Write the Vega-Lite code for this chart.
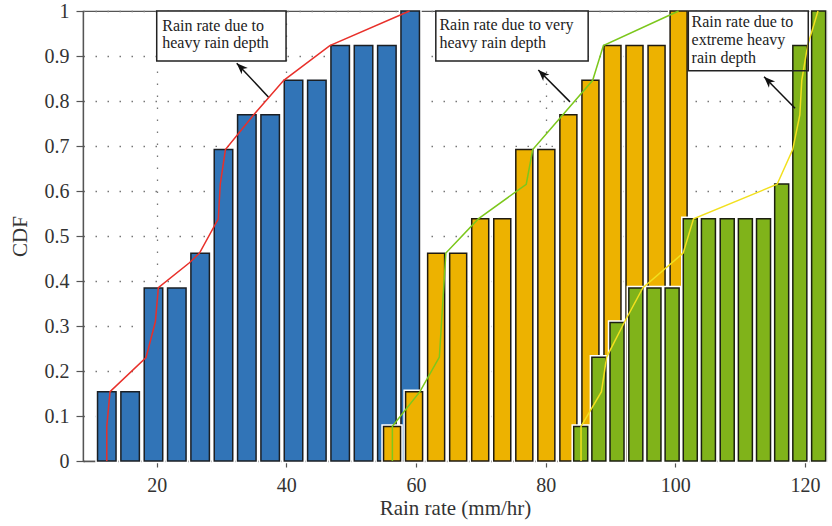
{
  "$schema": "https://vega.github.io/schema/vega-lite/v6.json",
  "width": 744,
  "height": 450,
  "autosize": {"type": "none"},
  "padding": {"left": 83, "top": 11, "right": 5, "bottom": 65},
  "background": "white",
  "config": {
    "view": {"stroke": "#555", "strokeWidth": 1.2},
    "axis": {
      "labelFont": "Liberation Serif",
      "labelFontSize": 20,
      "labelColor": "#333",
      "titleFont": "Liberation Serif",
      "titleFontSize": 21,
      "titleFontWeight": "normal",
      "titleColor": "#333",
      "domainColor": "#555",
      "domainWidth": 1.3,
      "tickColor": "#555",
      "tickWidth": 1.2,
      "gridColor": "#777",
      "gridDash": [1.5, 10.5],
      "gridWidth": 1.3
    }
  },
  "datasets": {
    "bars": [
      {"s": "heavy", "x": 12.3, "v": 0.1538},
      {"s": "heavy", "x": 15.9, "v": 0.1538},
      {"s": "heavy", "x": 19.5, "v": 0.3846},
      {"s": "heavy", "x": 23.1, "v": 0.3846},
      {"s": "heavy", "x": 26.7, "v": 0.4615},
      {"s": "heavy", "x": 30.3, "v": 0.6923},
      {"s": "heavy", "x": 33.9, "v": 0.7692},
      {"s": "heavy", "x": 37.5, "v": 0.7692},
      {"s": "heavy", "x": 41.1, "v": 0.8462},
      {"s": "heavy", "x": 44.7, "v": 0.8462},
      {"s": "heavy", "x": 48.3, "v": 0.9231},
      {"s": "heavy", "x": 51.9, "v": 0.9231},
      {"s": "heavy", "x": 55.5, "v": 0.9231},
      {"s": "heavy", "x": 59.1, "v": 1.0},
      {"s": "very", "x": 56.3, "v": 0.0769},
      {"s": "very", "x": 59.7, "v": 0.1538},
      {"s": "very", "x": 63.1, "v": 0.4615},
      {"s": "very", "x": 66.5, "v": 0.4615},
      {"s": "very", "x": 69.9, "v": 0.5385},
      {"s": "very", "x": 73.3, "v": 0.5385},
      {"s": "very", "x": 76.7, "v": 0.6923},
      {"s": "very", "x": 80.1, "v": 0.6923},
      {"s": "very", "x": 83.5, "v": 0.7692},
      {"s": "very", "x": 86.9, "v": 0.8462},
      {"s": "very", "x": 90.3, "v": 0.9231},
      {"s": "very", "x": 93.7, "v": 0.9231},
      {"s": "very", "x": 97.1, "v": 0.9231},
      {"s": "very", "x": 100.5, "v": 1.0},
      {"s": "extreme", "x": 85.4, "v": 0.0769},
      {"s": "extreme", "x": 88.2, "v": 0.2308},
      {"s": "extreme", "x": 91.0, "v": 0.3077},
      {"s": "extreme", "x": 93.9, "v": 0.3846},
      {"s": "extreme", "x": 96.7, "v": 0.3846},
      {"s": "extreme", "x": 99.5, "v": 0.3846},
      {"s": "extreme", "x": 102.3, "v": 0.5385},
      {"s": "extreme", "x": 105.1, "v": 0.5385},
      {"s": "extreme", "x": 108.0, "v": 0.5385},
      {"s": "extreme", "x": 110.8, "v": 0.5385},
      {"s": "extreme", "x": 113.6, "v": 0.5385},
      {"s": "extreme", "x": 116.4, "v": 0.6154},
      {"s": "extreme", "x": 119.2, "v": 0.9231},
      {"s": "extreme", "x": 122.1, "v": 1.0}
    ],
    "lines": [
      {"s": "heavy", "x": 12.3, "y": 0},
      {"s": "heavy", "x": 12.3, "y": 0.077},
      {"s": "heavy", "x": 12.8, "y": 0.154},
      {"s": "heavy", "x": 18.35, "y": 0.23},
      {"s": "heavy", "x": 19.8, "y": 0.31},
      {"s": "heavy", "x": 20.25, "y": 0.385},
      {"s": "heavy", "x": 25.0, "y": 0.44},
      {"s": "heavy", "x": 26.6, "y": 0.462},
      {"s": "heavy", "x": 29.5, "y": 0.538},
      {"s": "heavy", "x": 29.8, "y": 0.615},
      {"s": "heavy", "x": 30.6, "y": 0.692},
      {"s": "heavy", "x": 35.0, "y": 0.77},
      {"s": "heavy", "x": 39.6, "y": 0.846},
      {"s": "heavy", "x": 46.7, "y": 0.923},
      {"s": "heavy", "x": 59.0, "y": 1.0},
      {"s": "very", "x": 56.35, "y": 0},
      {"s": "very", "x": 56.35, "y": 0.077},
      {"s": "very", "x": 60.6, "y": 0.154},
      {"s": "very", "x": 63.6, "y": 0.231},
      {"s": "very", "x": 64.6, "y": 0.462},
      {"s": "very", "x": 69.6, "y": 0.538},
      {"s": "very", "x": 77.0, "y": 0.615},
      {"s": "very", "x": 78.0, "y": 0.692},
      {"s": "very", "x": 87.25, "y": 0.846},
      {"s": "very", "x": 88.9, "y": 0.923},
      {"s": "very", "x": 100.5, "y": 1.0},
      {"s": "extreme", "x": 85.45, "y": 0},
      {"s": "extreme", "x": 85.45, "y": 0.077},
      {"s": "extreme", "x": 88.6, "y": 0.154},
      {"s": "extreme", "x": 89.4, "y": 0.231},
      {"s": "extreme", "x": 92.2, "y": 0.31},
      {"s": "extreme", "x": 95.0, "y": 0.385},
      {"s": "extreme", "x": 101.2, "y": 0.462},
      {"s": "extreme", "x": 102.8, "y": 0.538},
      {"s": "extreme", "x": 115.7, "y": 0.615},
      {"s": "extreme", "x": 118.1, "y": 0.692},
      {"s": "extreme", "x": 119.2, "y": 0.769},
      {"s": "extreme", "x": 119.5, "y": 0.846},
      {"s": "extreme", "x": 120.4, "y": 0.923},
      {"s": "extreme", "x": 122.0, "y": 1.0}
    ],
    "boxes": [
      {"x1": 20.0, "x2": 39.95, "y1": 0.889, "y2": 1.0},
      {"x1": 63.05, "x2": 86.55, "y1": 0.889, "y2": 1.0},
      {"x1": 102.0, "x2": 120.5, "y1": 0.867, "y2": 1.0}
    ],
    "texts": [
      {"x": 20.85, "y": 0.956, "t": "Rain rate due to"},
      {"x": 20.85, "y": 0.917, "t": "heavy rain depth"},
      {"x": 63.6, "y": 0.958, "t": "Rain rate due to very"},
      {"x": 63.6, "y": 0.918, "t": "heavy rain depth"},
      {"x": 102.5, "y": 0.965, "t": "Rain rate due to"},
      {"x": 102.5, "y": 0.924, "t": "extreme heavy"},
      {"x": 102.5, "y": 0.884, "t": "rain depth"}
    ],
    "arrows": [
      {"x1": 37.22, "y1": 0.809, "x2": 32.34, "y2": 0.884},
      {"x1": 83.75, "y1": 0.798, "x2": 78.86, "y2": 0.869},
      {"x1": 118.46, "y1": 0.784, "x2": 113.68, "y2": 0.854}
    ]
  },
  "encoding": {
    "x": {
      "type": "quantitative",
      "scale": {"domain": [8.63, 123.39], "nice": false, "zero": false, "padding": 0},
      "axis": {
        "values": [20, 40, 60, 80, 100, 120],
        "title": "Rain rate (mm/hr)",
        "tickSize": 6,
        "labelPadding": 8,
        "titlePadding": 2
      }
    },
    "y": {
      "type": "quantitative",
      "scale": {"domain": [0, 1], "nice": false, "padding": 0},
      "axis": {
        "values": [0, 0.1, 0.2, 0.3, 0.4, 0.5, 0.6, 0.7, 0.8, 0.9, 1],
        "format": "~g",
        "title": "CDF",
        "tickSize": 7,
        "labelPadding": 7,
        "titlePadding": 14
      }
    }
  },
  "layer": [
    {
      "data": {"name": "boxes"},
      "mark": {"type": "rect", "fill": "white", "stroke": null},
      "encoding": {
        "x": {"field": "x1", "type": "quantitative"},
        "x2": {"field": "x2"},
        "y": {"field": "y1", "type": "quantitative"},
        "y2": {"field": "y2"}
      }
    },
    {
      "data": {"name": "bars"},
      "transform": [{"filter": "datum.s === 'heavy'"}],
      "mark": {"type": "bar", "width": 18.5, "fill": "white", "stroke": "white", "strokeWidth": 4.5},
      "encoding": {"x": {"field": "x", "type": "quantitative"}, "y": {"field": "v", "type": "quantitative"}}
    },
    {
      "data": {"name": "bars"},
      "transform": [{"filter": "datum.s === 'heavy'"}],
      "mark": {"type": "bar", "width": 18.5, "fill": "#3174b7", "stroke": "#1b1f24", "strokeWidth": 1.5},
      "encoding": {"x": {"field": "x", "type": "quantitative"}, "y": {"field": "v", "type": "quantitative"}}
    },
    {
      "data": {"name": "bars"},
      "transform": [{"filter": "datum.s === 'very'"}],
      "mark": {"type": "bar", "width": 17, "fill": "white", "stroke": "white", "strokeWidth": 4.5},
      "encoding": {"x": {"field": "x", "type": "quantitative"}, "y": {"field": "v", "type": "quantitative"}}
    },
    {
      "data": {"name": "bars"},
      "transform": [{"filter": "datum.s === 'very'"}],
      "mark": {"type": "bar", "width": 17, "fill": "#edb200", "stroke": "#1f1a10", "strokeWidth": 1.5},
      "encoding": {"x": {"field": "x", "type": "quantitative"}, "y": {"field": "v", "type": "quantitative"}}
    },
    {
      "data": {"name": "bars"},
      "transform": [{"filter": "datum.s === 'extreme'"}],
      "mark": {"type": "bar", "width": 14, "fill": "white", "stroke": "white", "strokeWidth": 4.5},
      "encoding": {"x": {"field": "x", "type": "quantitative"}, "y": {"field": "v", "type": "quantitative"}}
    },
    {
      "data": {"name": "bars"},
      "transform": [{"filter": "datum.s === 'extreme'"}],
      "mark": {"type": "bar", "width": 14, "fill": "#80b31a", "stroke": "#1b1f10", "strokeWidth": 1.5},
      "encoding": {"x": {"field": "x", "type": "quantitative"}, "y": {"field": "v", "type": "quantitative"}}
    },
    {
      "data": {"name": "lines"},
      "mark": {"type": "line", "strokeWidth": 1.5},
      "encoding": {
        "x": {"field": "x", "type": "quantitative"},
        "y": {"field": "y", "type": "quantitative"},
        "order": {"field": "y", "type": "quantitative"},
        "detail": {"field": "s"},
        "color": {
          "field": "s",
          "type": "nominal",
          "scale": {"domain": ["heavy", "very", "extreme"], "range": ["#e8302a", "#7cc71c", "#f2e01e"]},
          "legend": null
        }
      }
    },
    {
      "data": {"name": "boxes"},
      "mark": {"type": "rect", "fill": null, "fillOpacity": 0, "stroke": "#222", "strokeWidth": 1.5},
      "encoding": {
        "x": {"field": "x1", "type": "quantitative"},
        "x2": {"field": "x2"},
        "y": {"field": "y1", "type": "quantitative"},
        "y2": {"field": "y2"}
      }
    },
    {
      "data": {"name": "texts"},
      "mark": {"type": "text", "font": "Liberation Serif", "fontSize": 16, "color": "#222", "align": "left", "baseline": "alphabetic"},
      "encoding": {
        "x": {"field": "x", "type": "quantitative"},
        "y": {"field": "y", "type": "quantitative"},
        "text": {"field": "t"}
      }
    },
    {
      "data": {"name": "arrows"},
      "mark": {"type": "rule", "color": "#111", "strokeWidth": 1.5},
      "encoding": {
        "x": {"field": "x1", "type": "quantitative"},
        "y": {"field": "y1", "type": "quantitative"},
        "x2": {"field": "x2"},
        "y2": {"field": "y2"}
      }
    },
    {
      "data": {"name": "arrows"},
      "mark": {"type": "point", "shape": "M0,0 L0.62,1.6 L0,1.15 L-0.62,1.6 Z", "filled": true, "color": "#111", "opacity": 1, "size": 200, "angle": 315, "strokeWidth": 0},
      "encoding": {
        "x": {"field": "x2", "type": "quantitative"},
        "y": {"field": "y2", "type": "quantitative"}
      }
    }
  ]
}
